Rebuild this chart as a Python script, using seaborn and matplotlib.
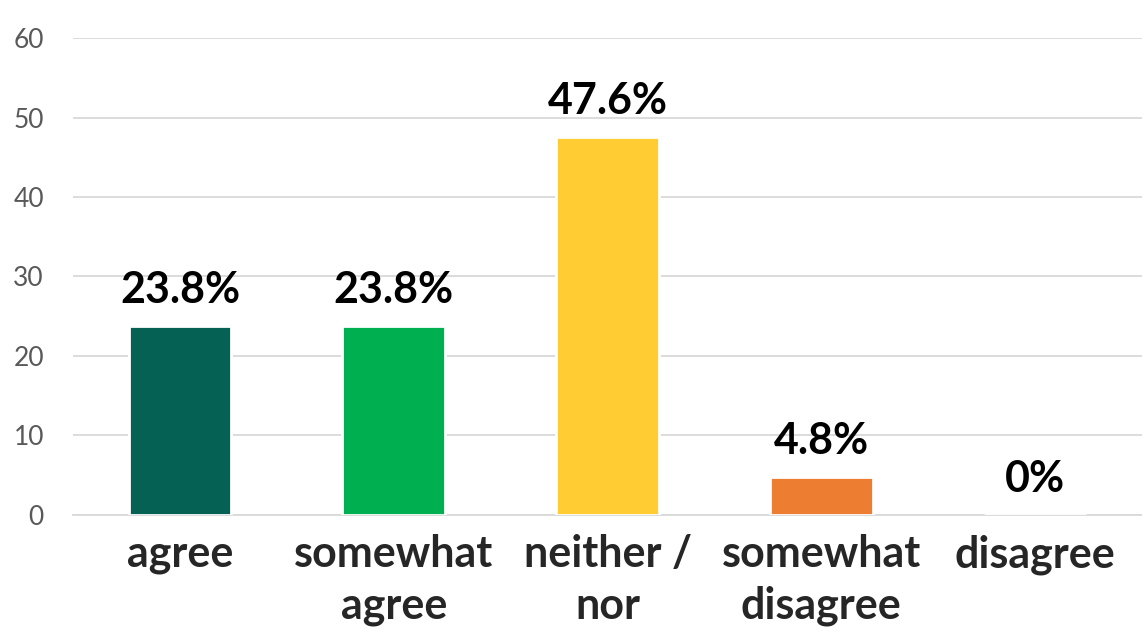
import pandas as pd
import seaborn as sns
import matplotlib.pyplot as plt
import numpy as np

# данные с картинки
categories = ['agree', 'somewhat\nagree', 'neither /\nnor', 'somewhat\ndisagree', 'disagree']
values = [23.8, 23.8, 47.6, 4.8, 0]
labels = ['23.8%', '23.8%', '47.6%', '4.8%', '0%']
colors = ['#046153', '#00B050', '#FFCC33', '#ED7D31', '#A5A5A5']

df = pd.DataFrame({'cat': categories, 'val': values})

sns.set_style('white')
plt.rcParams['font.family'] = ['Lato', 'DejaVu Sans']

fig = plt.figure(figsize=(11.42, 6.34), dpi=100)
ax = fig.add_axes([0.064, 0.188, 0.936, 0.752])

sns.barplot(data=df, x='cat', y='val', hue='cat', palette=colors, legend=False,
            width=0.48, edgecolor='white', linewidth=2, saturation=1, ax=ax, zorder=3)

ax.set_ylim(0, 60)
ax.set_xlim(-0.5, 4.5)
ax.set_yticks(range(0, 61, 10))
ax.yaxis.grid(True, color='#D9D9D9', linewidth=1.3, zorder=0)
ax.set_axisbelow(True)
for s in ['top', 'right', 'left']:
    ax.spines[s].set_visible(False)
ax.spines['bottom'].set_color('#D9D9D9')
ax.spines['bottom'].set_linewidth(1.3)

ax.tick_params(axis='y', length=0, labelsize=19, labelcolor='#595959', pad=21)
ax.tick_params(axis='x', which='major', length=0, labelsize=31, pad=14)
ax.set_xticks(np.arange(-0.5, 5, 1), minor=True)
ax.tick_params(axis='x', which='minor', length=9, color='#D9D9D9', width=1.3)
for t in ax.get_xticklabels():
    t.set_fontweight('bold')
    t.set_linespacing(1.35)
ax.set_xlabel('')
ax.set_ylabel('')

# подписи над столбцами
for i, (v, lab) in enumerate(zip(values, labels)):
    ax.text(i, v + 2.0, lab, ha='center', va='bottom', fontsize=31,
            fontweight='bold', color='black', zorder=4)

fig.savefig('out.png', dpi=100)
